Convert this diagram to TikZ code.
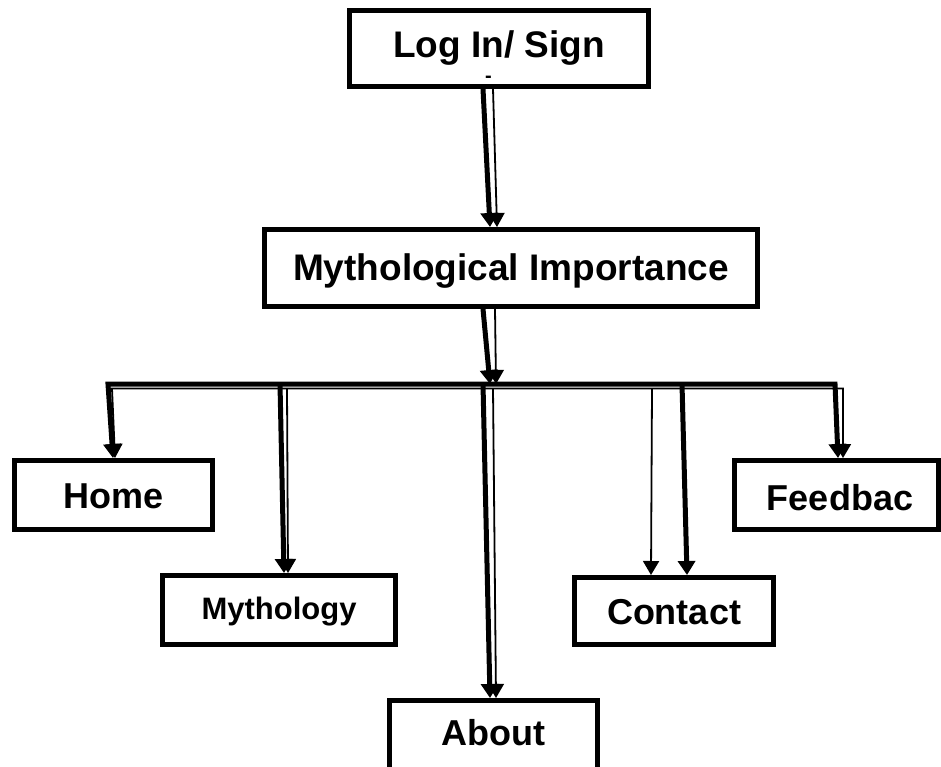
\documentclass[tikz,border=0pt]{standalone}
\usepackage{fontspec}
\setmainfont{Liberation Sans}
\usetikzlibrary{arrows.meta,calc}
\begin{document}
\begin{tikzpicture}[x=1pt,y=-1pt,
  box/.style={draw=black,line width=5pt,rectangle,inner sep=0pt,fill=white},
  bigtext/.style={font=\fontsize{37}{40}\selectfont\bfseries},
  midtext/.style={font=\fontsize{36}{40}\selectfont\bfseries},
  smalltext/.style={font=\fontsize{31}{34}\selectfont\bfseries},
  thickln/.style={line width=5pt},
  thinln/.style={line width=1.8pt},
  thickarr/.style={line width=5pt,-{Triangle[width=17pt,length=14pt]}},
  thinarr/.style={line width=1.8pt,-{Triangle[width=16pt,length=14pt]}},
  thickdbl/.style={line width=5pt,{Triangle[width=17pt,length=14pt]}-{Triangle[width=17pt,length=14pt]}},
  thindbl/.style={line width=1.8pt,{Triangle[width=16pt,length=14pt]}-{Triangle[width=16pt,length=14pt]}},
]
\useasboundingbox (0,0) rectangle (941,767);

% boxes
\node[box,bigtext,minimum width=299pt,minimum height=76pt,text height=29.5pt,text depth=10.5pt] (login) at (499,48.5) {Log In/ Sign};
\node[anchor=base,font=\fontsize{20}{20}\selectfont\bfseries,inner sep=0pt] (loginmark) at (488.5,83) {-};
\node[box,bigtext,minimum width=493pt,minimum height=77pt,text height=32pt,text depth=8pt] (myth) at (511,268) {Mythological Importance};
\node[box,midtext,minimum width=198pt,minimum height=69pt,text height=33pt,text depth=7pt] (home) at (113.5,495) {Home};
\node[box,smalltext,minimum width=233pt,minimum height=69pt,text height=29pt,text depth=11pt] (mythology) at (279,610) {Mythology};
\node[box,midtext,minimum width=208pt,minimum height=72pt,text height=29pt,text depth=11pt] (about) at (493.5,736.5) {About};
\node[box,midtext,minimum width=199pt,minimum height=67pt,text height=33pt,text depth=7pt] (contact) at (674,611) {Contact};
\node[box,midtext,minimum width=204pt,minimum height=69pt,text height=35pt,text depth=5pt] (feedback) at (836.5,495) {\hspace*{7pt}Feedbac};

% bus coordinates
\coordinate (busTL) at (108,384);
\coordinate (busTR) at (835,384);
\coordinate (busBL) at (112,388.5);
\coordinate (busBR) at (843,388.5);
\coordinate (hubA) at (490,384);
\coordinate (hubB) at (496,384);
\coordinate (myA) at (280,384);
\coordinate (myB) at (287,388.5);
\coordinate (abA) at (483,384);
\coordinate (abB) at (493,388.5);
\coordinate (coA) at (682,384);
\coordinate (coB) at (652,388.5);

% Log In -> Mythological Importance
\draw[thickarr] ($(login.south)+(-16,0)$) -- ($(myth.north)+(-21,0)$);
\draw[thinarr] ($(login.south)+(-6,0)$) -- ($(myth.north)+(-14,0)$);

% Mythological Importance -> bus
\draw[thickarr] ($(myth.south)+(-28,0)$) -- (hubA);
\draw[thinarr] ($(myth.south)+(-16,0)$) -- (hubB);

% bus with Home and Feedback branches
\draw[thindbl,line join=miter] ($(home.north)+(1.5,0)$) -- (busBL) -- (busBR) -- ($(feedback.north)+(6.5,0)$);
\draw[thickdbl,line join=miter] ($(home.north)+(-0.5,0)$) -- (busTL) -- (busTR) -- ($(feedback.north)+(1.5,0)$);

% Mythology
\draw[thickarr] (myA) -- ($(mythology.north)+(5,0)$);
\draw[thinarr] (myB) -- ($(mythology.north)+(9,0)$);

% About
\draw[thickarr] (abA) -- ($(about.north)+(-3.5,0)$);
\draw[thinarr] (abB) -- ($(about.north)+(2.5,0)$);

% Contact
\draw[thinarr] (coB) -- ($(contact.north)+(-23,0)$);
\draw[thickarr] (coA) -- ($(contact.north)+(13,0)$);
\end{tikzpicture}
\end{document}
